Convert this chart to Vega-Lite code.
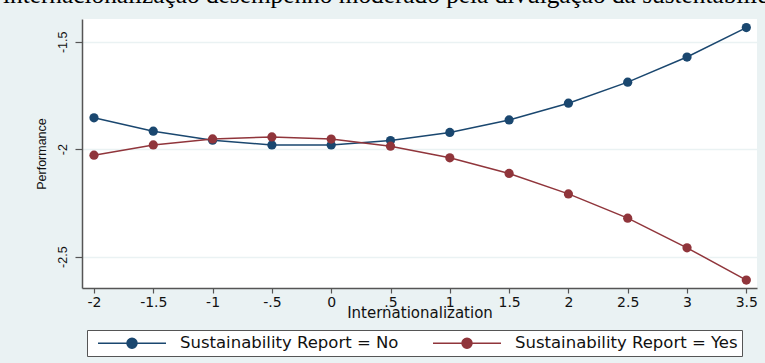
{
  "$schema": "https://vega.github.io/schema/vega-lite/v6.json",
  "width": 675,
  "height": 269,
  "autosize": {"type": "none"},
  "padding": {"left": 82, "top": 19, "right": 8, "bottom": 75},
  "background": "#eaf2f3",
  "title": {
    "text": "internacionalização desempenho moderado pela divulgação da sustentabilidade",
    "anchor": "start",
    "frame": "group",
    "font": "Liberation Serif",
    "fontSize": 25.3,
    "fontWeight": "normal",
    "color": "#000000",
    "baseline": "alphabetic",
    "offset": 8,
    "dx": -79,
    "dy": 17
  },
  "data": {
    "values": [
      {"internationalization": -2, "performance": -1.854, "report": "Sustainability Report = No"},
      {"internationalization": -1.5, "performance": -1.916, "report": "Sustainability Report = No"},
      {"internationalization": -1, "performance": -1.958, "report": "Sustainability Report = No"},
      {"internationalization": -0.5, "performance": -1.980, "report": "Sustainability Report = No"},
      {"internationalization": 0, "performance": -1.980, "report": "Sustainability Report = No"},
      {"internationalization": 0.5, "performance": -1.960, "report": "Sustainability Report = No"},
      {"internationalization": 1, "performance": -1.922, "report": "Sustainability Report = No"},
      {"internationalization": 1.5, "performance": -1.864, "report": "Sustainability Report = No"},
      {"internationalization": 2, "performance": -1.786, "report": "Sustainability Report = No"},
      {"internationalization": 2.5, "performance": -1.688, "report": "Sustainability Report = No"},
      {"internationalization": 3, "performance": -1.571, "report": "Sustainability Report = No"},
      {"internationalization": 3.5, "performance": -1.434, "report": "Sustainability Report = No"},
      {"internationalization": -2, "performance": -2.028, "report": "Sustainability Report = Yes"},
      {"internationalization": -1.5, "performance": -1.980, "report": "Sustainability Report = Yes"},
      {"internationalization": -1, "performance": -1.952, "report": "Sustainability Report = Yes"},
      {"internationalization": -0.5, "performance": -1.943, "report": "Sustainability Report = Yes"},
      {"internationalization": 0, "performance": -1.953, "report": "Sustainability Report = Yes"},
      {"internationalization": 0.5, "performance": -1.986, "report": "Sustainability Report = Yes"},
      {"internationalization": 1, "performance": -2.040, "report": "Sustainability Report = Yes"},
      {"internationalization": 1.5, "performance": -2.113, "report": "Sustainability Report = Yes"},
      {"internationalization": 2, "performance": -2.208, "report": "Sustainability Report = Yes"},
      {"internationalization": 2.5, "performance": -2.321, "report": "Sustainability Report = Yes"},
      {"internationalization": 3, "performance": -2.459, "report": "Sustainability Report = Yes"},
      {"internationalization": 3.5, "performance": -2.609, "report": "Sustainability Report = Yes"}
    ]
  },
  "mark": {
    "type": "line",
    "strokeWidth": 1.5,
    "point": {"filled": true, "size": 85, "opacity": 1}
  },
  "encoding": {
    "x": {
      "field": "internationalization",
      "type": "quantitative",
      "scale": {"domain": [-2.101, 3.59], "nice": false, "zero": false},
      "axis": {
        "values": [-2, -1.5, -1, -0.5, 0, 0.5, 1, 1.5, 2, 2.5, 3, 3.5],
        "title": "Internationalization",
        "grid": false,
        "domainColor": "#555555",
        "domainWidth": 1.5,
        "tickColor": "#555555",
        "tickSize": 5,
        "tickWidth": 1.2,
        "labelFont": "DejaVu Sans",
        "labelFontSize": 14,
        "labelColor": "#111111",
        "labelPadding": 2,
        "labelFlush": false,
        "labelOverlap": false,
        "labelExpr": "replace(replace(format(datum.value, '.1~f'), '0.', '.'), '\u2212', '-')",
        "titleFont": "DejaVu Sans",
        "titleFontSize": 15,
        "titleFontWeight": "normal",
        "titleColor": "#111111",
        "titlePadding": -4
      }
    },
    "y": {
      "field": "performance",
      "type": "quantitative",
      "scale": {"domain": [-2.646, -1.394], "nice": false, "zero": false},
      "axis": {
        "values": [-2.5, -2, -1.5],
        "title": "Performance",
        "grid": true,
        "gridColor": "#eaf2f3",
        "gridWidth": 1.5,
        "domainColor": "#555555",
        "domainWidth": 1.5,
        "tickColor": "#555555",
        "tickSize": 7,
        "tickWidth": 1.2,
        "labelAngle": -90,
        "labelFont": "Liberation Sans",
        "labelFontSize": 12.5,
        "labelColor": "#111111",
        "labelPadding": 6,
        "labelExpr": "replace(replace(format(datum.value, '.1~f'), '0.', '.'), '\u2212', '-')",
        "titleFont": "Liberation Sans",
        "titleFontSize": 12.5,
        "titleFontWeight": "normal",
        "titleColor": "#111111",
        "titlePadding": 8
      }
    },
    "color": {
      "field": "report",
      "type": "nominal",
      "scale": {
        "domain": ["Sustainability Report = No", "Sustainability Report = Yes"],
        "range": ["#1a476f", "#90353b"]
      },
      "legend": {
        "orient": "none",
        "legendX": 5,
        "legendY": 311,
        "direction": "horizontal",
        "title": null,
        "fillColor": "white",
        "strokeColor": "#555555",
        "padding": 4,
        "symbolType": "M-0.25,0L8.25,0M3.375,0A0.625,0.625 0 1,1 4.625,0A0.625,0.625 0 1,1 3.375,0Z",
        "symbolSize": 256,
        "symbolStrokeWidth": 1.5,
        "labelOffset": 71,
        "columnPadding": 27,
        "labelLimit": 400,
        "labelFont": "DejaVu Sans",
        "labelFontSize": 16.5,
        "labelColor": "#111111",
        "encode": {
          "symbols": {
            "update": {
              "fill": {"scale": "color", "field": "value"},
              "stroke": {"scale": "color", "field": "value"},
              "strokeWidth": {"value": 1.5},
              "opacity": {"value": 1}
            }
          }
        }
      }
    }
  },
  "config": {
    "view": {"fill": "white", "stroke": null}
  }
}
